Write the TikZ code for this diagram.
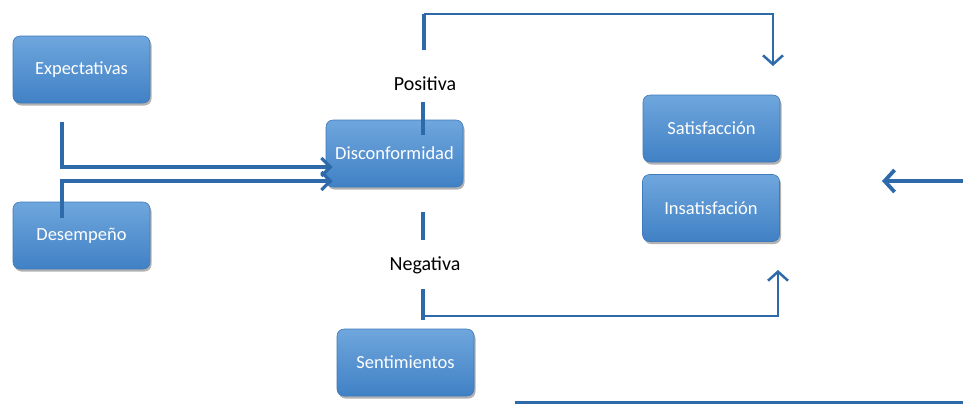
\documentclass[tikz,border=0pt]{standalone}
\usepackage{fontspec}
\setmainfont{Carlito}
\usetikzlibrary{arrows.meta,shadows}
\definecolor{ln}{RGB}{46,106,170}
\definecolor{btop}{RGB}{111,166,221}
\definecolor{bbot}{RGB}{64,129,197}
\definecolor{bdr}{RGB}{62,122,188}
\begin{document}
\begin{tikzpicture}[x=1pt,y=-1pt,
  box/.style={rounded corners=7pt, top color=btop, bottom color=bbot, draw=bdr,
    line width=0.6pt, minimum width=137pt, minimum height=67pt, text=white,
    inner sep=0pt, font=\fontsize{18.5}{22}\selectfont,
    drop shadow={shadow xshift=1.5pt, shadow yshift=-2.5pt, opacity=0.3, fill=black}},
  lbl/.style={text=black, inner sep=0pt, font=\fontsize{20}{24}\selectfont},
  thickarr/.style={draw=ln, line width=3.2pt, -{Straight Barb[length=9pt,width=18pt]}},
  connarr/.style={draw=ln, line width=2.5pt, -{Straight Barb[length=9pt,width=20pt]}},
  seg/.style={draw=ln, line width=3.5pt},
  bigarr/.style={draw=ln, line width=3.8pt, -{Straight Barb[length=10pt,width=22pt]}},
  plainline/.style={draw=ln, line width=3pt}
]
\useasboundingbox (0,0) rectangle (963,405);

% boxes
\node[box] (exp) at (81.5,69.5) {Expectativas};
\node[box] (des) at (81.5,235.5) {Desempeño};
\node[box] (dis) at (394.5,153.5) {Disconformidad};
\node[box] (sen) at (405.5,362.5) {Sentimientos};
\node[box] (sat) at (711.5,128.5) {Satisfacción};
\node[box] (ins) at (711,208) {Insatisfación};

% labels
\node[lbl] (pos) at (425,84) {Positiva};
\node[lbl] (neg) at (425,265) {Negativa};

% coordinates
\coordinate (e1) at (62,122);
\coordinate (d1) at (62,218);
\coordinate (p1) at (423,135);
\coordinate (p2) at (423,102);
\coordinate (p3) at (424,50);
\coordinate (p4) at (424,14);
\coordinate (p5) at (773,66);
\coordinate (n1) at (423,212);
\coordinate (n2) at (423,240);
\coordinate (n3) at (423,289);
\coordinate (n4) at (423,320);
\coordinate (n5) at (423,316);
\coordinate (n6) at (778,270);
\coordinate (r1) at (963,181);
\coordinate (r2) at (882,181);
\coordinate (b1) at (515,402);
\coordinate (b2) at (963,402);

% left arrows into Disconformidad
\draw[thickarr] (e1) |- ([shift={(7,13.5)}]dis.west);
\draw[thickarr] (d1) |- ([shift={(7,27.5)}]dis.west);

% positive branch
\draw[seg] (p1) -- (p2);
\draw[seg] (p3) -- (p4);
\draw[connarr] (p4) -| (p5);

% negative branch
\draw[seg] (n1) -- (n2);
\draw[seg] (n3) -- (n4);
\draw[connarr] (n5) -| (n6);

% right arrow and bottom line
\draw[bigarr] (r1) -- (r2);
\draw[plainline] (b1) -- (b2);
\end{tikzpicture}
\end{document}
